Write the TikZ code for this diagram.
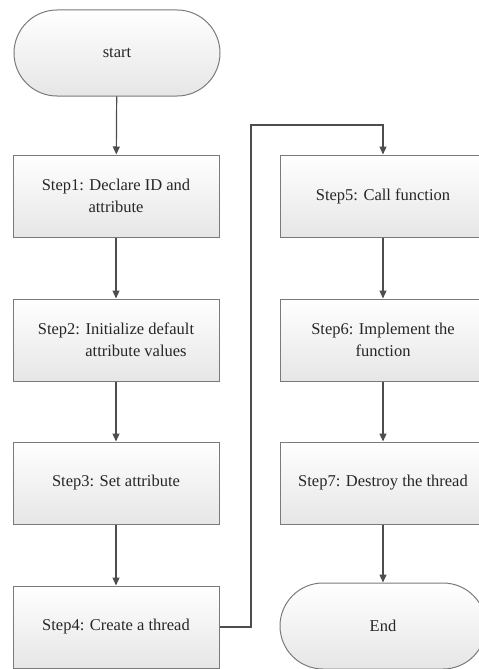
\documentclass[tikz,border=0pt]{standalone}
\usepackage{fontspec}
\setmainfont{Liberation Serif}
\usetikzlibrary{shapes.misc, arrows.meta}
\definecolor{boxline}{HTML}{7A7A7A}
\definecolor{boxfill}{HTML}{E6E6E6}
\definecolor{linecol}{HTML}{4D4D4D}
\definecolor{textcol}{HTML}{262626}
\begin{document}
\begin{tikzpicture}[x=1pt, y=-1pt,
  stepbox/.style={draw=boxline, line width=1pt, top color=white, bottom color=boxfill,
    minimum width=206pt, minimum height=82pt, inner sep=0pt, align=center,
    font=\fontsize{16.5}{22}\selectfont, text=textcol},
  terminal/.style={stepbox, rounded rectangle, minimum height=86pt},
  flow/.style={draw=linecol, line width=1.2pt, -{Triangle[length=8pt, width=7pt]}}
]
\useasboundingbox (0,0) rectangle (479,669);
\clip (0,0) rectangle (479,669);

% left column
\node[terminal] (start) at (117,53) {start};
\node[stepbox] (s1) at (116,196) {Step1: Declare ID and\\attribute};
\node[stepbox] (s2) at (116,340) {Step2: Initialize default\\\hspace*{40pt}attribute values};
\node[stepbox] (s3) at (116,483) {Step3: Set attribute};
\node[stepbox] (s4) at (116,627) {Step4: Create a thread};

% right column
\node[stepbox] (s5) at (383,196) {Step5: Call function};
\node[stepbox] (s6) at (383,340) {Step6: Implement the\\function};
\node[stepbox] (s7) at (383,483) {Step7: Destroy the thread};
\node[terminal] (end) at (383,626) {End};

% connectors
\draw[flow] (start) -- (s1);
\draw[flow] (s1) -- (s2);
\draw[flow] (s2) -- (s3);
\draw[flow] (s3) -- (s4);
\coordinate (jog) at (251,125);
\draw[flow] (s4.east) -| (jog) -| (s5.north);
\draw[flow] (s5) -- (s6);
\draw[flow] (s6) -- (s7);
\draw[flow] (s7) -- (end);
\end{tikzpicture}
\end{document}
